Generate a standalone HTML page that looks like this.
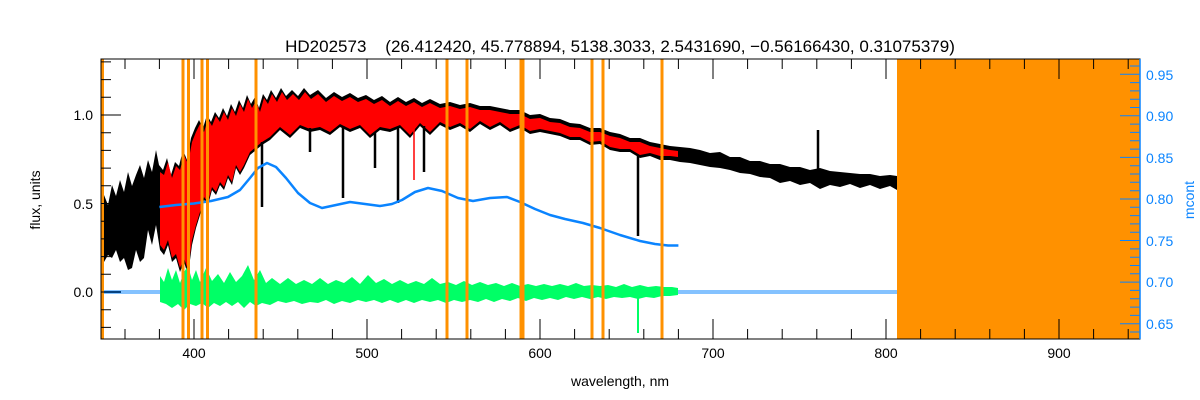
<!DOCTYPE html>
<html><head><meta charset="utf-8"><style>
html,body{margin:0;padding:0;background:#fff;}
svg{display:block;font-family:"Liberation Sans",sans-serif;}
</style></head><body>
<svg width="1200" height="400" xmlns="http://www.w3.org/2000/svg">
<rect width="1200" height="400" fill="#fff"/>
<polygon fill="#000" points="101,212 104,195 108,205 112,185 116,196 120,180 124,192 128,172 132,186 136,175 140,165 144,178 148,160 152,172 156,150 159,165 163,170 167,158 171,175 175,162 179,166 183,150 187,160 191,138 195,128 199,120 203,128 207,115 211,122 215,112 219,118 223,108 227,116 231,104 235,112 239,100 243,108 247,95 251,104 255,97 259,108 263,94 267,100 271,90 276,98 281,88 286,96 292,90 298,96 304,88 310,95 318,90 326,98 334,92 342,97 350,93 358,98 366,95 374,100 382,96 390,102 398,97 406,102 414,98 422,103 430,99 440,104 450,102 460,105 470,103 480,106 490,106 500,108 510,110 520,110 530,115 540,114 550,118 560,119 570,123 580,124 590,128 600,128 610,132 620,134 630,138 640,138 650,142 660,144 670,146 680,147 690,148 700,150 710,153 720,152 730,157 740,157 750,161 760,161 770,164 780,164 790,167 800,167 810,170 820,168 830,171 840,172 850,173 860,174 870,174 880,176 890,175 897,176 897,190 890,186 880,189 870,185 860,188 850,184 840,187 830,185 820,189 810,183 800,185 790,181 780,183 770,178 760,177 750,174 740,173 730,170 720,168 710,167 700,165 690,163 680,162 670,160 660,160 650,156 640,158 630,152 620,152 610,150 600,144 590,145 580,140 570,140 560,136 550,134 540,132 530,134 520,128 510,132 500,125 490,130 480,124 470,132 460,126 450,130 440,125 430,135 420,126 410,138 400,128 390,132 380,130 370,138 360,128 350,132 340,127 330,135 320,130 310,132 300,128 290,138 280,130 270,140 262,145 256,150 250,155 244,168 240,175 236,168 232,185 228,178 224,190 220,185 216,195 212,190 208,205 204,200 200,215 196,228 192,245 188,275 184,262 180,272 176,258 172,262 168,245 164,255 160,250 156,225 152,245 148,230 144,258 140,262 136,250 132,268 128,270 124,258 120,262 116,250 112,258 108,255 104,262 101,262"/>
<polygon fill="#ff0000" points="160,172 164,175 168,162 172,178 176,166 180,170 184,155 188,164 192,142 196,132 200,124 204,132 208,119 212,126 216,116 220,122 224,112 228,120 232,108 236,116 240,104 244,112 248,99 252,108 256,101 260,112 264,98 268,104 272,94 277,102 282,92 287,100 293,94 299,100 305,92 311,99 318,94 326,102 334,96 342,101 350,97 358,102 366,99 374,104 382,100 390,106 398,101 406,106 414,102 422,107 430,103 440,108 450,106 460,109 470,107 480,110 490,110 500,112 510,114 520,114 530,119 540,118 550,122 560,123 570,127 580,128 590,132 600,132 610,136 620,138 630,142 640,142 650,146 660,148 670,150 678,151 678,157 670,156 660,156 650,153 640,155 630,149 620,149 610,147 600,141 590,142 580,137 570,137 560,133 550,131 540,129 530,131 520,125 510,129 500,122 490,127 480,121 470,129 460,123 450,127 440,122 430,132 420,123 410,135 400,125 390,129 380,127 370,135 360,125 350,129 340,124 330,132 320,127 310,129 300,125 290,135 280,127 270,137 262,142 256,147 250,152 244,165 240,172 236,165 232,182 228,175 224,187 220,182 216,192 212,187 208,202 204,197 200,212 196,225 192,240 188,270 184,258 180,268 176,254 172,258 168,240 164,250 160,245"/>
<g stroke="#000" stroke-width="2.5">
<line x1="262" y1="142" x2="262" y2="207"/>
<line x1="310" y1="128" x2="310" y2="152"/>
<line x1="343" y1="126" x2="343" y2="198"/>
<line x1="375" y1="133" x2="375" y2="168"/>
<line x1="398" y1="128" x2="398" y2="203"/>
<line x1="424" y1="126" x2="424" y2="172"/>
<line x1="522" y1="127" x2="522" y2="170"/>
<line x1="638" y1="156" x2="638" y2="236"/>
<line x1="818" y1="130" x2="818" y2="180"/>
</g>
<g stroke="#ff0000" stroke-width="1.5">
<line x1="414" y1="125" x2="414" y2="180"/>
</g>
<line x1="101" x2="897" y1="291" y2="291" stroke="#0a84ff" stroke-width="1"/>
<line x1="101" x2="897" y1="293" y2="293" stroke="#0a84ff" stroke-width="1"/>
<polygon fill="#00ff66" points="160,276 164,282 168,268 172,280 176,270 180,283 184,272 188,266 192,280 196,270 200,282 206,268 212,281 218,274 224,283 230,272 236,282 242,276 248,265 254,280 260,270 266,283 272,278 280,284 288,278 296,284 304,280 312,284 320,278 328,284 336,280 344,283 352,277 360,284 368,275 376,283 384,279 392,284 400,280 408,284 416,281 424,284 432,278 440,284 448,282 456,285 464,281 472,285 480,282 488,285 496,283 504,286 512,283 520,286 528,284 536,286 544,284 552,286 560,284 568,286 576,283 584,286 592,285 600,286 608,285 616,287 624,284 632,287 640,285 648,287 656,286 664,287 672,287 678,288 678,295 670,296 662,296 654,298 646,297 638,299 630,297 622,298 614,297 606,299 598,297 590,299 582,297 574,299 566,297 558,300 550,298 542,300 534,298 526,301 518,298 510,301 502,299 494,302 486,299 478,302 470,300 462,302 454,300 446,303 438,300 430,302 422,300 414,303 406,300 398,303 390,300 382,303 374,300 366,302 358,300 350,303 342,301 334,304 326,300 318,303 310,302 302,304 294,301 286,303 278,301 270,305 262,303 256,306 250,302 244,308 238,302 232,306 226,302 220,306 214,303 208,308 202,303 196,306 190,304 184,310 178,304 172,308 166,304 160,302"/>
<line x1="638" y1="292" x2="638" y2="333" stroke="#00ff66" stroke-width="2"/>
<polyline fill="none" stroke="#0a84ff" stroke-width="2.5" stroke-linejoin="round" points="159.4,207 176,205 194,203.5 211,201 228,197 240,190 250,178 258,168 267,163 276,167 286,178 298,193 310,203 322,208 336,205 350,202 365,204 380,206 392,204 402,200 415,192 428,188 442,191 458,198 473,201 490,198 507,197 520,202 535,209 550,215 565,219 583,223 600,228 620,235 640,241 655,244 668,245.5 678.4,245.5"/>
<rect x="897" y="59" width="243" height="280" fill="#ff9100"/>
<g stroke="#ff9100" stroke-width="3">
<line x1="102.5" x2="102.5" y1="59" y2="339"/><line x1="183" x2="183" y1="59" y2="339"/><line x1="188.5" x2="188.5" y1="59" y2="339"/>
<line x1="202" x2="202" y1="59" y2="339"/><line x1="207.5" x2="207.5" y1="59" y2="339"/><line x1="256" x2="256" y1="59" y2="339"/>
<line x1="447" x2="447" y1="59" y2="339"/><line x1="467" x2="467" y1="59" y2="339"/><line x1="521" x2="521" y1="59" y2="339"/><line x1="523" x2="523" y1="59" y2="339"/>
<line x1="592" x2="592" y1="59" y2="339"/><line x1="603" x2="603" y1="59" y2="339"/>
<line x1="662" x2="662" y1="59" y2="339"/>
</g>
<rect x="101" y="59" width="1039" height="280" fill="none" stroke="#000" stroke-width="1"/>
<g stroke="#000" stroke-width="1">
<path d="M125,339v-10M159.4,339v-10M194,339v-20M228.6,339v-10M263.2,339v-10M297.8,339v-10M332.4,339v-10M367,339v-20M401.6,339v-10M436.2,339v-10M470.8,339v-10M505.4,339v-10M540,339v-20M574.6,339v-10M609.2,339v-10M643.8,339v-10M678.4,339v-10M713,339v-20M747.6,339v-10M782.2,339v-10M816.8,339v-10M851.4,339v-10M886,339v-20M920.6,339v-10M955.2,339v-10M989.8,339v-10M1024.4,339v-10M1059,339v-20M1093.6,339v-10M1128.2,339v-10"/>
<path d="M125,59v10M159.4,59v10M194,59v20M228.6,59v10M263.2,59v10M297.8,59v10M332.4,59v10M367,59v20M401.6,59v10M436.2,59v10M470.8,59v10M505.4,59v10M540,59v20M574.6,59v10M609.2,59v10M643.8,59v10M678.4,59v10M713,59v20M747.6,59v10M782.2,59v10M816.8,59v10M851.4,59v10M886,59v20M920.6,59v10M955.2,59v10M989.8,59v10M1024.4,59v10M1059,59v20M1093.6,59v10M1128.2,59v10"/>
<path d="M101,327.4h10M101,309.7h10M101,292h20M101,274.3h10M101,256.6h10M101,238.9h10M101,221.2h10M101,203.5h20M101,185.8h10M101,168.1h10M101,150.4h10M101,132.7h10M101,115h20M101,97.3h10M101,79.6h10M101,61.9h10"/>
</g>
<g font-size="14" text-anchor="middle" fill="#000">
<text x="194" y="358">400</text><text x="367" y="358">500</text><text x="540" y="358">600</text><text x="713" y="358">700</text><text x="886" y="358">800</text><text x="1059" y="358">900</text>
</g>
<g font-size="14" text-anchor="end" fill="#000">
<text x="93" y="297">0.0</text><text x="93" y="209">0.5</text><text x="93" y="120">1.0</text>
</g>
<line x1="1140" x2="1140" y1="59" y2="339" stroke="#0a84ff" stroke-width="1.5"/>
<path stroke="#0a84ff" stroke-width="1" d="M1140,332h-10M1140,323.7h-20M1140,315.4h-10M1140,307.1h-10M1140,298.8h-10M1140,290.4h-10M1140,282.1h-20M1140,273.8h-10M1140,265.5h-10M1140,257.2h-10M1140,248.9h-10M1140,240.5h-20M1140,232.2h-10M1140,223.9h-10M1140,215.6h-10M1140,207.3h-10M1140,199h-20M1140,190.7h-10M1140,182.3h-10M1140,174h-10M1140,165.7h-10M1140,157.4h-20M1140,149.1h-10M1140,140.8h-10M1140,132.4h-10M1140,124.1h-10M1140,115.8h-20M1140,107.5h-10M1140,99.2h-10M1140,90.9h-10M1140,82.6h-10M1140,74.3h-20M1140,66h-10"/>
<g font-size="14" fill="#0a84ff">
<text x="1146" y="329">0.65</text><text x="1146" y="287">0.70</text><text x="1146" y="246">0.75</text><text x="1146" y="204">0.80</text><text x="1146" y="163">0.85</text><text x="1146" y="121">0.90</text><text x="1146" y="80">0.95</text>
</g>
<text x="620" y="52" font-size="17" text-anchor="middle" fill="#000" style="white-space:pre" xml:space="preserve">HD202573    (26.412420, 45.778894, 5138.3033, 2.5431690, −0.56166430, 0.31075379)</text>
<text x="620" y="386" font-size="14" text-anchor="middle" fill="#000">wavelength, nm</text>
<text transform="translate(40,200) rotate(-90)" font-size="14" text-anchor="middle" fill="#000">flux, units</text>
<text transform="translate(1194,200) rotate(-90)" font-size="14" text-anchor="middle" fill="#0a84ff">mcont</text>
</svg>
</body></html>
